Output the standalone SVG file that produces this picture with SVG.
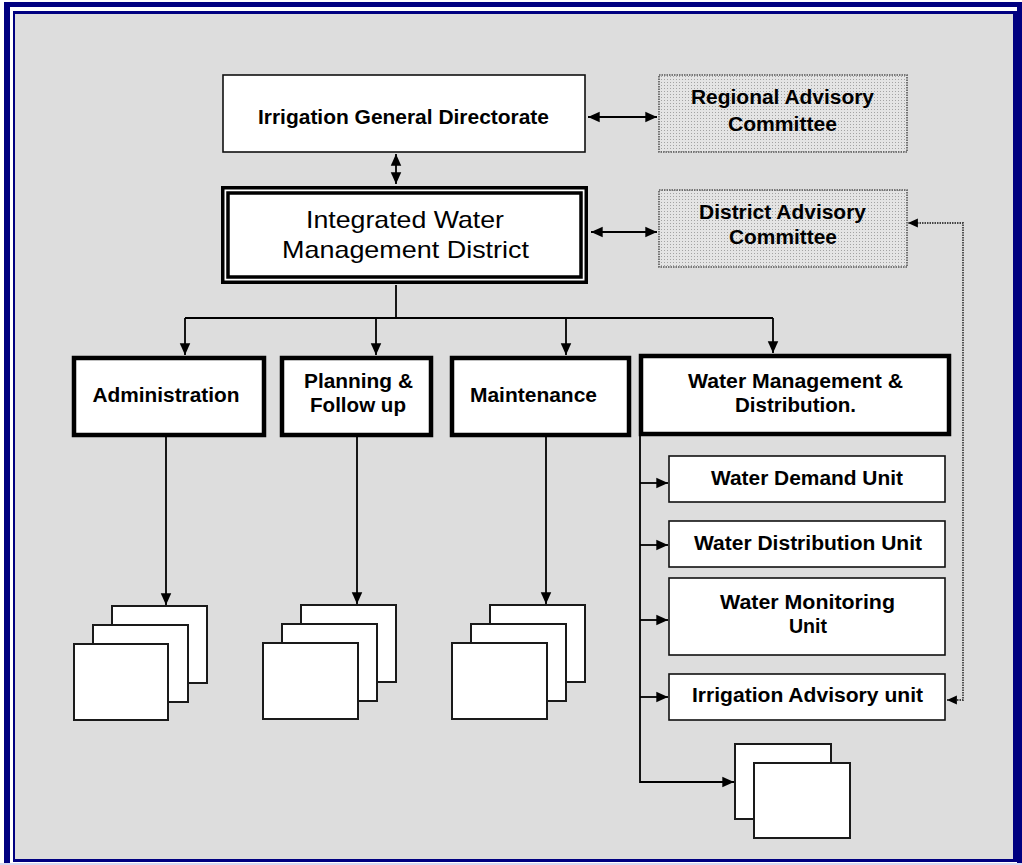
<svg xmlns="http://www.w3.org/2000/svg" width="1022" height="865" viewBox="0 0 1022 865">
<style>
.t{font-family:"Liberation Sans",Arial,sans-serif;font-weight:bold;font-size:19.5px;fill:#000;text-anchor:middle}
.big{font-family:"Liberation Sans",Arial,sans-serif;font-size:24px;fill:#000;text-anchor:middle}
.box{fill:#fff;stroke:#111;stroke-width:1.6}
.thick{fill:#fff;stroke:#000;stroke-width:4.5}
.adv{fill:url(#dots);stroke:#555;stroke-width:1.6;stroke-dasharray:1.5 1}
.stk{fill:#fff;stroke:#1a1a1a;stroke-width:2}
.ln{fill:none;stroke:#000;stroke-width:1.8}
.dot{fill:none;stroke:#444;stroke-width:1.8;stroke-dasharray:1.5 1}
</style>
<defs>
<pattern id="dots" width="3" height="3" patternUnits="userSpaceOnUse">
<rect width="3" height="3" fill="#e4e4e4"/>
<rect x="1" y="1" width="1" height="1" fill="#a3a3a3"/>
</pattern>
<marker id="ah" viewBox="0 0 10 10" refX="10" refY="5" markerWidth="6.5" markerHeight="6.5" orient="auto-start-reverse" markerUnits="strokeWidth">
<path d="M0,0.5 L10,5 L0,9.5 Z" fill="#000"/>
</marker>
<marker id="dah" viewBox="0 0 10 10" refX="10" refY="5" markerWidth="5.5" markerHeight="5.5" orient="auto-start-reverse" markerUnits="strokeWidth">
<path d="M0,0.5 L10,5 L0,9.5 Z" fill="#000"/>
</marker>
</defs>
<!-- frame -->
<rect x="0" y="0" width="1022" height="865" fill="#fff"/>
<rect x="4" y="2" width="1018" height="868" fill="#000080"/>
<rect x="10" y="7" width="1007" height="856" fill="#fff"/>
<rect x="13" y="11" width="1004" height="851" fill="#000080"/>
<rect x="15" y="14" width="998" height="845" fill="#dddddd"/>
<rect x="0" y="863" width="1022" height="2" fill="#d8d8f0"/>

<g id="connectors">
<line class="ln" x1="588" y1="117" x2="657" y2="117" marker-start="url(#ah)" marker-end="url(#ah)"/>
<line class="ln" x1="396" y1="154" x2="396" y2="184" marker-start="url(#ah)" marker-end="url(#ah)"/>
<line class="ln" x1="591" y1="232" x2="657" y2="232" marker-start="url(#ah)" marker-end="url(#ah)"/>
<polyline class="ln" points="396,285 396,318"/>
<polyline class="ln" points="185,318 773,318"/>
<line class="ln" x1="185" y1="318" x2="185" y2="355" marker-end="url(#ah)"/>
<line class="ln" x1="376" y1="318" x2="376" y2="355" marker-end="url(#ah)"/>
<line class="ln" x1="566" y1="318" x2="566" y2="355" marker-end="url(#ah)"/>
<line class="ln" x1="773" y1="318" x2="773" y2="353" marker-end="url(#ah)"/>
<line class="ln" x1="166" y1="436" x2="166" y2="605" marker-end="url(#ah)"/>
<line class="ln" x1="357" y1="436" x2="357" y2="604" marker-end="url(#ah)"/>
<line class="ln" x1="546" y1="436" x2="546" y2="604" marker-end="url(#ah)"/>
<polyline class="ln" points="640,436 640,782 734,782" marker-end="url(#ah)"/>
<line class="ln" x1="640" y1="483" x2="668" y2="483" marker-end="url(#ah)"/>
<line class="ln" x1="640" y1="545" x2="668" y2="545" marker-end="url(#ah)"/>
<line class="ln" x1="640" y1="620" x2="668" y2="620" marker-end="url(#ah)"/>
<line class="ln" x1="640" y1="697" x2="668" y2="697" marker-end="url(#ah)"/>
<polyline class="dot" points="947,700 963,700 963,223 908,223" marker-start="url(#dah)" marker-end="url(#dah)"/>
</g>

<g id="igd">
<rect class="box" x="223" y="75" width="362" height="77"/>
<text class="t" x="403.5" y="124" textLength="291" lengthAdjust="spacingAndGlyphs">Irrigation General Directorate</text>
</g>
<g id="rac">
<rect class="adv" x="659" y="75" width="248" height="77"/>
<text class="t" x="782.5" y="104" textLength="183" lengthAdjust="spacingAndGlyphs">Regional Advisory</text>
<text class="t" x="782.5" y="131" textLength="109" lengthAdjust="spacingAndGlyphs">Committee</text>
</g>
<g id="iwmd">
<rect x="221" y="186" width="367" height="98" fill="#000"/>
<rect x="224.5" y="189.5" width="360" height="91" fill="#fff"/>
<rect x="228" y="193" width="353" height="84" fill="#fff" stroke="#000" stroke-width="3.5"/>
<text class="big" x="405" y="228" textLength="198" lengthAdjust="spacingAndGlyphs">Integrated Water</text>
<text class="big" x="405.5" y="258" textLength="247" lengthAdjust="spacingAndGlyphs">Management District</text>
</g>
<g id="dac">
<rect class="adv" x="659" y="190" width="248" height="77"/>
<text class="t" x="782.5" y="219" textLength="167" lengthAdjust="spacingAndGlyphs">District Advisory</text>
<text class="t" x="783" y="244" textLength="108" lengthAdjust="spacingAndGlyphs">Committee</text>
</g>
<g id="admin">
<rect class="thick" x="74" y="358" width="190" height="77"/>
<text class="t" x="166" y="402" textLength="147" lengthAdjust="spacingAndGlyphs">Administration</text>
</g>
<g id="planning">
<rect class="thick" x="282" y="358" width="149" height="77"/>
<text class="t" x="358.5" y="388" textLength="109" lengthAdjust="spacingAndGlyphs">Planning &amp;</text>
<text class="t" x="358" y="412" textLength="96" lengthAdjust="spacingAndGlyphs">Follow up</text>
</g>
<g id="maint">
<rect class="thick" x="452" y="358" width="177" height="77"/>
<text class="t" x="533.5" y="402" textLength="127" lengthAdjust="spacingAndGlyphs">Maintenance</text>
</g>
<g id="wmd">
<rect class="thick" x="641" y="356" width="308" height="78"/>
<text class="t" x="795.5" y="388" textLength="215" lengthAdjust="spacingAndGlyphs">Water Management &amp;</text>
<text class="t" x="795.5" y="412" textLength="121" lengthAdjust="spacingAndGlyphs">Distribution.</text>
</g>
<g id="wdu">
<rect class="box" x="669" y="456" width="276" height="46"/>
<text class="t" x="807" y="485" textLength="192" lengthAdjust="spacingAndGlyphs">Water Demand Unit</text>
</g>
<g id="wdisu">
<rect class="box" x="669" y="521" width="276" height="46"/>
<text class="t" x="808" y="550" textLength="228" lengthAdjust="spacingAndGlyphs">Water Distribution Unit</text>
</g>
<g id="wmu">
<rect class="box" x="669" y="578" width="276" height="77"/>
<text class="t" x="807.5" y="609" textLength="175" lengthAdjust="spacingAndGlyphs">Water Monitoring</text>
<text class="t" x="808" y="633" textLength="38" lengthAdjust="spacingAndGlyphs">Unit</text>
</g>
<g id="iau">
<rect class="box" x="669" y="674" width="276" height="46"/>
<text class="t" x="807.5" y="702" textLength="231" lengthAdjust="spacingAndGlyphs">Irrigation Advisory unit</text>
</g>
<g id="stack-admin">
<rect class="stk" x="112" y="606" width="95" height="77"/>
<rect class="stk" x="93" y="625" width="95" height="77"/>
<rect class="stk" x="74" y="644" width="94" height="76"/>
</g>
<g id="stack-planning">
<rect class="stk" x="301" y="605" width="95" height="77"/>
<rect class="stk" x="282" y="624" width="95" height="77"/>
<rect class="stk" x="263" y="643" width="95" height="76"/>
</g>
<g id="stack-maint">
<rect class="stk" x="490" y="605" width="95" height="77"/>
<rect class="stk" x="471" y="624" width="95" height="77"/>
<rect class="stk" x="452" y="643" width="95" height="76"/>
</g>
<g id="stack-wmd">
<rect class="stk" x="735" y="744" width="96" height="75"/>
<rect class="stk" x="754" y="763" width="96" height="75"/>
</g>
</svg>
